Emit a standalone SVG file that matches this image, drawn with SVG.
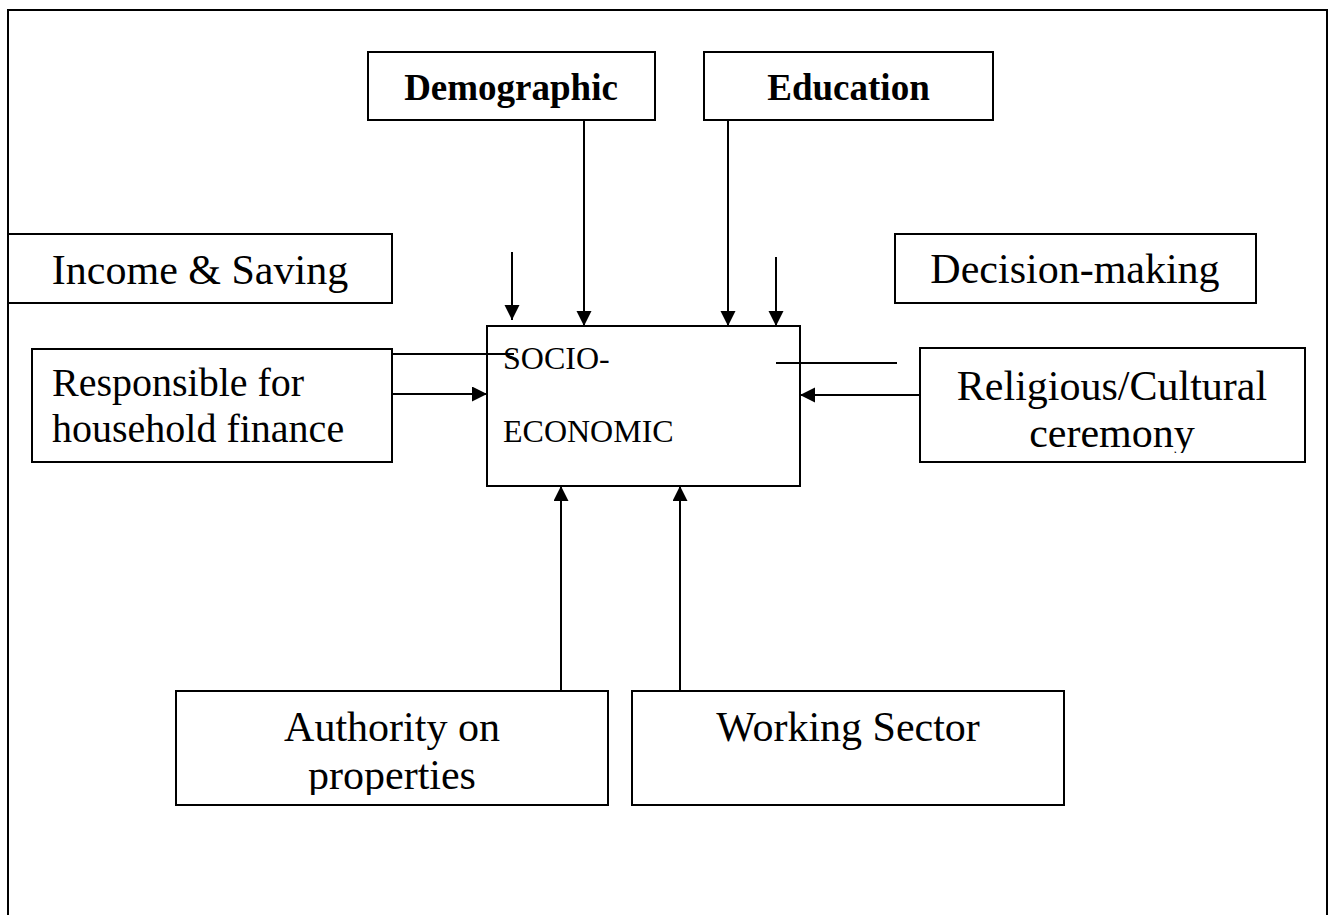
<svg xmlns="http://www.w3.org/2000/svg" width="1336" height="915" viewBox="0 0 1336 915">
  <style>
    .box { fill: #ffffff; stroke: #000000; stroke-width: 2; }
    .t { font-family: "Liberation Serif", "Times New Roman", serif; font-size: 42px; fill: #000000; }
    .b { font-family: "Liberation Serif", "Times New Roman", serif; font-size: 37px; font-weight: bold; fill: #000000; }
    .s { font-family: "Liberation Serif", "Times New Roman", serif; font-size: 32px; fill: #000000; }
    .c { stroke: #000000; stroke-width: 2; fill: none; }
    .a { marker-end: url(#arrow); }
  </style>
  <defs>
    <marker id="arrow" markerUnits="userSpaceOnUse" markerWidth="16" markerHeight="16" refX="15" refY="7.5" orient="auto">
      <path d="M0,0 L15,7.5 L0,15 z" fill="#000000"/>
    </marker>
    <clipPath id="clipRel"><rect x="920" y="348" width="385" height="105"/></clipPath>
    <clipPath id="clipAuth"><rect x="176" y="691" width="432" height="104"/></clipPath>
  </defs>

  <rect id="frame" x="8" y="10" width="1319" height="930" fill="#ffffff" stroke="#000000" stroke-width="2"/>

  <g id="demographic">
    <rect class="box" x="368" y="52" width="287" height="68"/>
    <text class="b" x="511" y="100" text-anchor="middle">Demographic</text>
  </g>
  <g id="education">
    <rect class="box" x="704" y="52" width="289" height="68"/>
    <text class="b" x="848.5" y="100" text-anchor="middle">Education</text>
  </g>
  <g id="income-saving">
    <rect class="box" x="8" y="234" width="384" height="69"/>
    <text class="t" x="200" y="284" text-anchor="middle">Income &amp; Saving</text>
  </g>
  <g id="decision-making">
    <rect class="box" x="895" y="234" width="361" height="69"/>
    <text class="t" x="1075" y="283" text-anchor="middle">Decision-making</text>
  </g>
  <g id="responsible">
    <rect class="box" x="32" y="349" width="360" height="113"/>
    <text class="t" x="52" y="396" style="font-size:40px">Responsible for</text>
    <text class="t" x="52" y="442" style="font-size:40px">household finance</text>
  </g>
  <g id="religious">
    <rect class="box" x="920" y="348" width="385" height="114"/>
    <g clip-path="url(#clipRel)">
      <text class="t" x="1112" y="400" text-anchor="middle">Religious/Cultural</text>
      <text class="t" x="1112" y="447" text-anchor="middle">ceremony</text>
    </g>
  </g>
  <g id="socio-economic">
    <rect class="box" x="487" y="326" width="313" height="160"/>
    <text class="s" x="503" y="369">SOCIO-</text>
    <text class="s" x="503" y="442">ECONOMIC</text>
  </g>
  <g id="authority">
    <rect class="box" x="176" y="691" width="432" height="114"/>
    <g clip-path="url(#clipAuth)">
      <text class="t" x="392" y="741" text-anchor="middle">Authority on</text>
      <text class="t" x="392" y="789" text-anchor="middle">properties</text>
    </g>
  </g>
  <g id="working-sector">
    <rect class="box" x="632" y="691" width="432" height="114"/>
    <text class="t" x="848" y="741" text-anchor="middle">Working Sector</text>
  </g>

  <g id="connectors">
    <line class="c a" x1="512" y1="252" x2="512" y2="320"/>
    <line class="c a" x1="584" y1="120" x2="584" y2="326"/>
    <line class="c a" x1="728" y1="120" x2="728" y2="326"/>
    <line class="c a" x1="776" y1="257" x2="776" y2="326"/>
    <line class="c" x1="392" y1="354" x2="514" y2="354"/>
    <line class="c a" x1="392" y1="394" x2="487" y2="394"/>
    <line class="c" x1="776" y1="363" x2="897" y2="363"/>
    <line class="c a" x1="920" y1="395" x2="800" y2="395"/>
    <line class="c a" x1="561" y1="691" x2="561" y2="486"/>
    <line class="c a" x1="680" y1="691" x2="680" y2="486"/>
  </g>
</svg>
